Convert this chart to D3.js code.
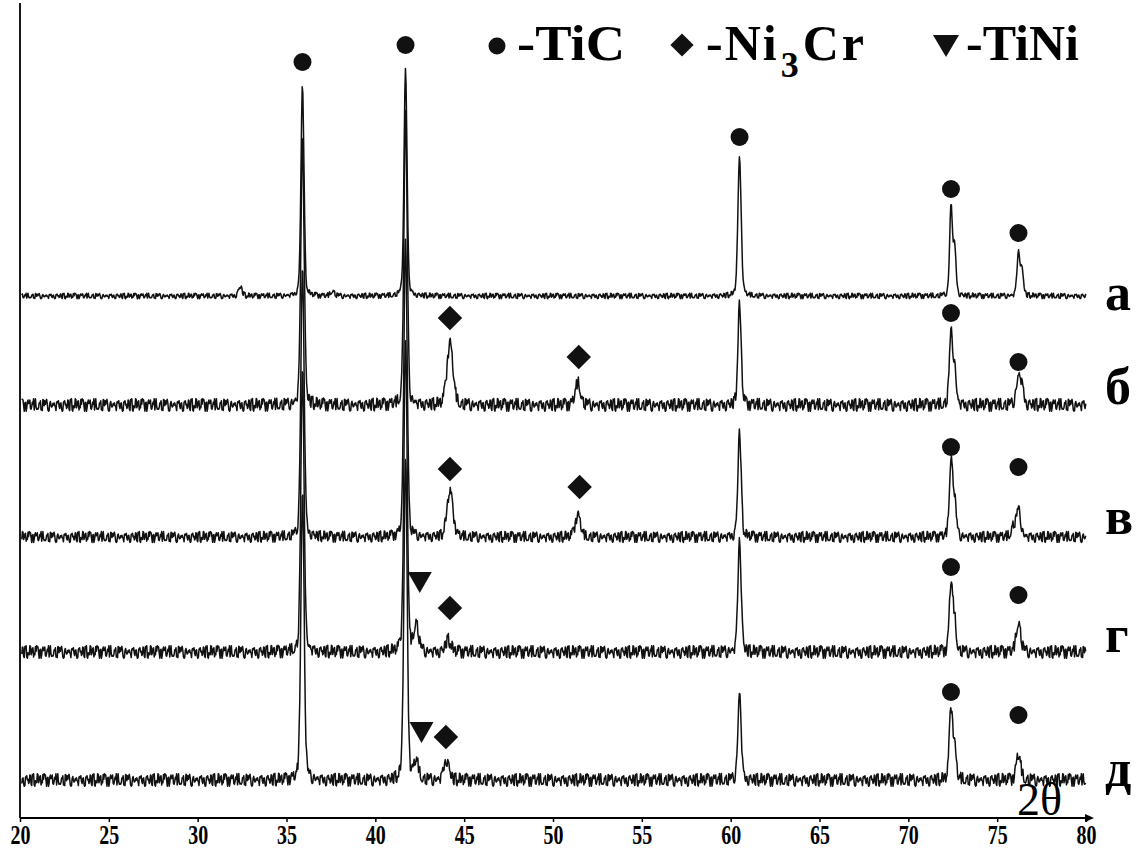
<!DOCTYPE html>
<html><head><meta charset="utf-8">
<script src="https://cdn.jsdelivr.net/npm/d3@7"></script>
<style>html,body{margin:0;padding:0;background:#fff;}svg{display:block;}</style>
</head><body>
<script>
// ---------- data ----------
const xTicks = [20,25,30,35,40,45,50,55,60,65,70,75,80];
const seriesNames = ["а","б","в","г","д"];
// vertical offset of each pattern (arbitrary intensity units)
const offsets = [522, 413, 281, 166, 38];
const noiseAmp = [3, 7, 6, 7, 7];
// peaks: [2θ, intensity above background, FWHM]
const peaksA = [[32.4,9,0.25],[37.6,5,0.25],[35.9,211,0.2],[41.7,228,0.2],[60.5,138,0.22],[72.4,88,0.18],[72.6,48,0.2],[76.2,43,0.2],[76.4,24,0.2]];
const peaksB = [[35.9,268,0.22],[41.7,290,0.22],[44.2,62,0.4],[51.4,22,0.35],[60.5,100,0.22],[72.4,68,0.22],[72.6,35,0.22],[76.2,27,0.3],[76.4,14,0.25]];
const peaksC = [[35.9,270,0.22],[41.7,300,0.22],[44.2,45,0.4],[51.4,22,0.35],[60.5,105,0.22],[72.4,75,0.22],[72.6,35,0.22],[75.9,10,0.25],[76.2,27,0.3]];
const peaksD = [[35.9,280,0.22],[41.7,310,0.22],[42.3,28,0.3],[44.1,12,0.35],[60.5,113,0.22],[72.4,68,0.22],[72.6,30,0.22],[76.2,30,0.3]];
const peaksE = [[35.9,290,0.22],[41.7,320,0.22],[42.3,18,0.3],[44.0,20,0.35],[60.5,87,0.22],[72.4,70,0.22],[72.6,30,0.22],[76.2,25,0.3]];
const seriesPeaks = [peaksA, peaksB, peaksC, peaksD, peaksE];
// hand-typed background noise sequence
const noise = [0.3,-0.6,0.8,-0.2,0.5,-0.9,0.1,0.7,-0.4,0.2,-0.8,0.6,-0.1,0.9,-0.5,0.3,-0.7,0.4,0.0,-0.3,0.8,-0.6,0.2,-0.9,0.5,0.1,-0.4,0.7,-0.2,0.6,-0.8,0.3,-0.5,0.9,-0.1,0.4,-0.7,0.2,0.6,-0.3,0.8,-0.9,0.1,-0.6,0.5,-0.2,0.7,-0.4,0.3,0.9,-0.8,0.0,-0.5,0.6,-0.1,0.4,-0.7,0.8,-0.3,0.2,-0.6,0.5,-0.9,0.1,0.7,-0.2,0.3,-0.8,0.6,-0.4,0.9,-0.1,0.2,-0.5,0.8,-0.7,0.4,-0.3,0.6,0.0,-0.9,0.5,-0.2,0.7,-0.6,0.1,0.3,-0.8,0.9,-0.4,0.2,-0.5,0.6,-0.1,0.4,-0.7,0.8];
// phase markers: [2θ, intensity position]
const ticMarks = [[35.9,756],[41.7,773],[60.5,681],[72.4,629],[76.2,585],[72.4,505],[76.2,456],[72.4,371],[76.2,351],[72.4,251],[76.2,223],[72.4,126],[76.2,103]];
const ni3crMarks = [[44.2,500],[51.45,461],[44.2,349],[51.5,331],[44.2,210],[43.97,81]];
const tiniMarks = [[42.5,236],[42.6,86]];
const legendNames = ["-TiC","-Ni","-TiNi"];

// ---------- layout ----------
const W = 1144, H = 854;
const svg = d3.select("body").append("svg").attr("width", W).attr("height", H);
const x = d3.scaleLinear().domain([20, 80]).range([20, 1086]);
const y = d3.scaleLinear().domain([0, 815]).range([818, 3]);

// axes
svg.append("line").attr("x1", x(20)).attr("x2", x(20)).attr("y1", y(815)).attr("y2", y(0))
  .attr("stroke", "#000").attr("stroke-width", 1.8);
const xAxis = d3.axisBottom(x).tickValues(xTicks).tickSize(4).tickPadding(3).tickFormat(d3.format("d"));
const gx = svg.append("g").attr("transform", `translate(0,${y(0)})`).call(xAxis);
gx.select(".domain").attr("stroke-width", 2).attr("d", `M${x(20)},0H${x(80)+4}`);
gx.selectAll(".tick line").attr("stroke-width", 1.5);
gx.selectAll(".tick text").attr("font-family", "Liberation Serif").attr("font-weight", "bold")
  .attr("font-size", 27).attr("fill", "#000").attr("transform", "scale(0.74,1)");
svg.append("path").attr("d", `M${x(80)+8},${y(0)} l-9,-4 l0,8 z`).attr("fill", "#000");

// patterns
function profile(peaks, k) {
  const pts = [];
  let i = 0;
  for (let t = 20.1; t <= 80.0001; t += 0.035, i++) {
    let v = offsets[k] + noiseAmp[k] * noise[(i * 7 + k * 13) % noise.length];
    for (const [p, h, w] of peaks) {
      const d = (t - p) / (w / 2);
      v += h * (0.75 * Math.exp(-0.693 * d * d) + 0.25 / (1 + d * d));
    }
    pts.push([t, v]);
  }
  return pts;
}
const line = d3.line().x(d => x(d[0])).y(d => y(d[1]));
seriesPeaks.forEach((pk, k) => {
  svg.append("path").attr("d", line(profile(pk, k))).attr("fill", "none")
    .attr("stroke", "#111").attr("stroke-width", 1.5).attr("stroke-linejoin", "round");
});

// markers
svg.selectAll(".tic").data(ticMarks).join("circle").attr("cx", d => x(d[0])).attr("cy", d => y(d[1]))
  .attr("r", 9).attr("fill", "#111");
const dia = d3.symbol().type(d3.symbolSquare).size(300);
svg.selectAll(".ni").data(ni3crMarks).join("path").attr("d", dia)
  .attr("transform", d => `translate(${x(d[0])},${y(d[1])}) rotate(45)`).attr("fill", "#111");
svg.selectAll(".tini").data(tiniMarks).join("path")
  .attr("d", d => `M${x(d[0]) - 12},${y(d[1]) - 10} h24 l-12,21 z`).attr("fill", "#111");

// series labels
const labelY = [310, 404, 534, 652, 786];
svg.selectAll(".lab").data(seriesNames).join("text").attr("x", 1105).attr("y", (d, i) => labelY[i])
  .attr("font-family", "Liberation Serif").attr("font-weight", "bold").attr("font-size", 52).text(d => d);

// 2θ
svg.append("text").attr("x", 1017).attr("y", 815).attr("font-family", "Liberation Serif")
  .attr("font-size", 46).text("2θ");

// legend
const lg = svg.append("g").attr("font-family", "Liberation Serif").attr("font-weight", "bold").attr("font-size", 50);
lg.append("circle").attr("cx", 497).attr("cy", 46).attr("r", 8.5).attr("fill", "#111");
lg.append("text").attr("x", 517).attr("y", 60).attr("textLength", 108).attr("lengthAdjust", "spacingAndGlyphs").text(legendNames[0]);
lg.append("path").attr("d", dia.size(270)()).attr("transform", "translate(682,45) rotate(45)").attr("fill", "#111");
const t2 = lg.append("text").attr("x", 706).attr("y", 60);
t2.append("tspan").attr("letter-spacing", 2).text(legendNames[1]);
t2.append("tspan").attr("dx", 2).attr("dy", 17).attr("font-size", 36).text("3");
t2.append("tspan").attr("dx", 4).attr("dy", -17).attr("letter-spacing", 3).text("Cr");
lg.append("path").attr("d", "M933,35 h26 l-13,22 z").attr("fill", "#111");
lg.append("text").attr("x", 966).attr("y", 60).text(legendNames[2]);
</script>
</body></html>
